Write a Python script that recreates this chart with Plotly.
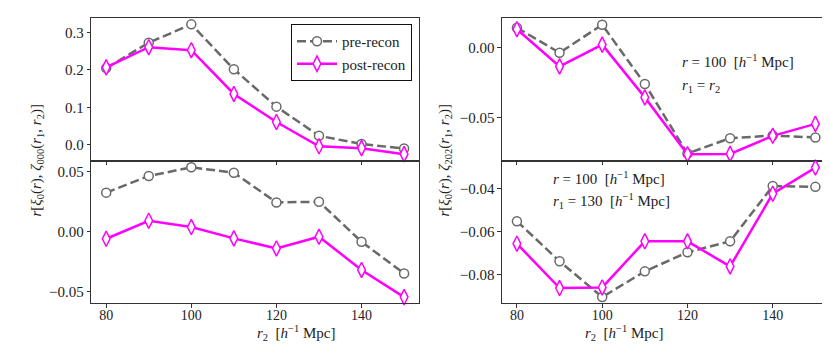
import plotly.graph_objects as go

r2 = [80, 90, 100, 110, 120, 130, 140, 150]

# left column: zeta_000, top r1 = r2, bottom r1 = 130
pre_000_diag = [0.205, 0.273, 0.322, 0.202, 0.102, 0.024, 0.002, -0.010]
post_000_diag = [0.207, 0.261, 0.253, 0.136, 0.061, -0.004, -0.009, -0.025]
pre_000_r130 = [0.0327, 0.0466, 0.0539, 0.0494, 0.0245, 0.0251, -0.0084, -0.0349]
post_000_r130 = [-0.0059, 0.0092, 0.0039, -0.0056, -0.014, -0.0042, -0.032, -0.0547]

# right column: zeta_202
pre_202_diag = [0.0140, -0.0039, 0.0161, -0.0262, -0.0757, -0.0648, -0.0629, -0.0643]
post_202_diag = [0.0129, -0.0136, 0.0019, -0.0357, -0.0762, -0.0760, -0.0631, -0.0546]
pre_202_r130 = [-0.0551, -0.0738, -0.0905, -0.0785, -0.0696, -0.0645, -0.0387, -0.0391]
post_202_r130 = [-0.0656, -0.0863, -0.0860, -0.0645, -0.0645, -0.0762, -0.0423, -0.0301]

W, H = 830, 348
FONT = "Liberation Serif, DejaVu Serif, Times New Roman, serif"
PRE_COLOR = "#696969"
POST_COLOR = "#ff00ff"

panels = [
    ("x", "y", pre_000_diag, post_000_diag),
    ("x2", "y2", pre_000_r130, post_000_r130),
    ("x3", "y3", pre_202_diag, post_202_diag),
    ("x4", "y4", pre_202_r130, post_202_r130),
]

fig = go.Figure()
for i, (xa, ya, pre, post) in enumerate(panels):
    fig.add_trace(go.Scatter(
        x=r2, y=pre, xaxis=xa, yaxis=ya, mode="lines+markers", name="pre-recon",
        showlegend=(i == 0), cliponaxis=False,
        line=dict(color=PRE_COLOR, width=2.5, dash="9px,4px"),
        marker=dict(symbol="circle", size=9, color="white",
                    line=dict(color=PRE_COLOR, width=1.5)),
    ))
    fig.add_trace(go.Scatter(
        x=r2, y=post, xaxis=xa, yaxis=ya, mode="lines+markers", name="post-recon",
        showlegend=(i == 0), cliponaxis=False,
        line=dict(color=POST_COLOR, width=2.5),
        marker=dict(symbol="diamond-tall", size=11, color="white",
                    line=dict(color=POST_COLOR, width=1.5)),
    ))


def px_x(p):
    return p / W


def px_y(p):
    return 1 - p / H


left = [px_x(83.3), px_x(411)]
right = [px_x(494), px_x(822.3)]
top = [px_y(152.5), px_y(10)]
bottom = [px_y(295.3), px_y(152.5)]

axis_common = dict(
    showline=True, mirror=True, linecolor="#333333", linewidth=1.2,
    ticks="outside", ticklen=3.5, tickcolor="#333333", showgrid=False, zeroline=False,
    tickfont=dict(family=FONT, size=15, color="#222222"),
)
x_common = dict(axis_common, range=[76.5, 153.5], tickvals=[80, 100, 120, 140],
                tickfont=dict(family=FONT, size=14, color="#222222"),
                ticklabelstandoff=-5)

fig.update_layout(
    width=W, height=H, margin=dict(l=0, r=0, t=0, b=0),
    plot_bgcolor="white", paper_bgcolor="white",
    font=dict(family=FONT, size=15, color="#222222"),
    xaxis=dict(x_common, domain=left, anchor="y", showticklabels=False),
    yaxis=dict(axis_common, domain=top, anchor="x", range=[-0.042, 0.339],
               tickvals=[0.0, 0.1, 0.2, 0.3], tickformat=".1f"),
    xaxis2=dict(x_common, domain=left, anchor="y2"),
    yaxis2=dict(axis_common, domain=bottom, anchor="x2", range=[-0.0599, 0.0596],
                tickvals=[-0.05, 0.0, 0.05], tickformat=".2f"),
    xaxis3=dict(x_common, domain=right, anchor="y3", showticklabels=False),
    yaxis3=dict(axis_common, domain=top, anchor="x3", range=[-0.0807, 0.0209],
                tickvals=[-0.05, 0.0], tickformat=".2f"),
    xaxis4=dict(x_common, domain=right, anchor="y4"),
    yaxis4=dict(axis_common, domain=bottom, anchor="x4", range=[-0.0934, -0.0268],
                tickvals=[-0.08, -0.06, -0.04], tickformat=".2f"),
    legend=dict(x=px_x(404), y=px_y(16), xanchor="right", yanchor="top",
                bgcolor="white", bordercolor="#111111", borderwidth=1,
                font=dict(family=FONT, size=15), itemwidth=40,
                tracegroupgap=2),
    separators=".−",
)

xlabel = "<i>r</i><sub>2</sub>  [<i>h</i><sup>−1</sup> Mpc]"
ylabel_000 = ("<i>r</i>[<i>ξ</i><sub>0</sub>(<i>r</i>), <i>ζ</i><sub>000</sub>"
              "(<i>r</i><sub>1</sub>, <i>r</i><sub>2</sub>)]")
ylabel_202 = ("<i>r</i>[<i>ξ</i><sub>0</sub>(<i>r</i>), <i>ζ</i><sub>202</sub>"
              "(<i>r</i><sub>1</sub>, <i>r</i><sub>2</sub>)]")

annotations = [
    dict(text=xlabel, x=(left[0] + left[1]) / 2, y=px_y(337), xref="paper", yref="paper",
         showarrow=False, font=dict(size=15)),
    dict(text=xlabel, x=(right[0] + right[1]) / 2, y=px_y(337), xref="paper", yref="paper",
         showarrow=False, font=dict(size=15)),
    dict(text=ylabel_000, x=px_x(17), y=px_y(152.5), xref="paper", yref="paper",
         showarrow=False, textangle=-90, font=dict(size=15)),
    dict(text=ylabel_202, x=px_x(436), y=px_y(152.5), xref="paper", yref="paper",
         showarrow=False, textangle=-90, font=dict(size=15)),
    dict(text="<i>r</i> = 100  [<i>h</i><sup>−1</sup> Mpc]", x=px_x(672), y=px_y(42),
         xref="paper", yref="paper", xanchor="left", showarrow=False, font=dict(size=15)),
    dict(text="<i>r</i><sub>1</sub> = <i>r</i><sub>2</sub>", x=px_x(672), y=px_y(67),
         xref="paper", yref="paper", xanchor="left", showarrow=False, font=dict(size=15)),
    dict(text="<i>r</i> = 100  [<i>h</i><sup>−1</sup> Mpc]", x=px_x(543), y=px_y(170),
         xref="paper", yref="paper", xanchor="left", showarrow=False, font=dict(size=15)),
    dict(text="<i>r</i><sub>1</sub> = 130  [<i>h</i><sup>−1</sup> Mpc]", x=px_x(543), y=px_y(193),
         xref="paper", yref="paper", xanchor="left", showarrow=False, font=dict(size=15)),
]
fig.update_layout(annotations=annotations)

fig.write_html("out.html")
